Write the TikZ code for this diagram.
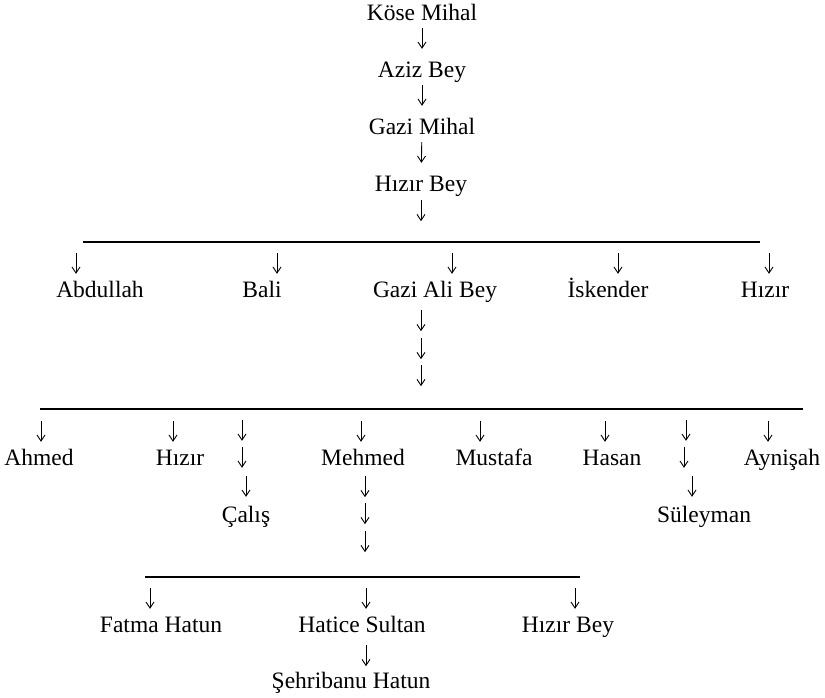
\documentclass[tikz,border=0pt]{standalone}
\usepackage{fontspec}
\setmainfont{Liberation Serif}
\usetikzlibrary{arrows.meta}

\begin{document}
\begin{tikzpicture}[x=1pt,y=-1pt,
  font=\fontsize{23.5}{28}\selectfont,
  person/.style={inner sep=0pt,anchor=base,text height=16pt,text depth=5pt},
  dn/.style={-{Straight Barb[length=6pt,width=8pt]},line width=0.9pt},
  chain/.style={dn,shorten <=3pt,shorten >=12pt},
  bar/.style={line width=1.3pt}]

\useasboundingbox (0,0) rectangle (825,697);

% line of descent
\node[person] (kose)  at (422,20)  {Köse Mihal};
\node[person] (aziz)  at (422,77)  {Aziz Bey};
\node[person] (gazim) at (422,134) {Gazi Mihal};
\node[person] (hizir) at (421,191) {Hızır Bey};
\draw[chain] (kose) -- (aziz);
\draw[chain] (aziz) -- (gazim);
\draw[chain] (gazim) -- (hizir);
\draw[dn] ([shift={(0,4)}]hizir.south) -- ++(0,21);

% sons of Hizir Bey
\draw[bar] (83,242) -- (760,242);
\node[person] (abdullah) at (100,297) {Abdullah};
\node[person] (bali)     at (262,297) {Bali};
\node[person] (galibey)  at (435,297) {Gazi Ali Bey};
\node[person] (iskender) at (608,297) {İskender};
\node[person] (hizir2)   at (765,297) {Hızır};
\draw[dn] ([shift={(-24,-28)}]abdullah.north) -- ++(0,21);
\draw[dn] ([shift={(15,-28)}]bali.north) -- ++(0,21);
\draw[dn] ([shift={(17,-28)}]galibey.north) -- ++(0,21);
\draw[dn] ([shift={(10,-28)}]iskender.north) -- ++(0,21);
\draw[dn] ([shift={(4,-28)}]hizir2.north) -- ++(0,21);
\draw[dn] ([shift={(-14,8)}]galibey.south) -- ++(0,21);
\draw[dn] ([shift={(-14,36)}]galibey.south) -- ++(0,21);
\draw[dn] ([shift={(-14,63)}]galibey.south) -- ++(0,21);

% children of Gazi Ali Bey
\draw[bar] (40,409) -- (803,409);
\node[person] (ahmed)    at (39,465)  {Ahmed};
\node[person] (hizir3)   at (180,465) {Hızır};
\node[person] (mehmed)   at (363,465) {Mehmed};
\node[person] (mustafa)  at (494,465) {Mustafa};
\node[person] (hasan)    at (612,465) {Hasan};
\node[person] (aynisah)  at (782,465) {Aynişah};
\node[person] (calis)    at (246,522) {Çalış};
\node[person] (suleyman) at (704,522) {Süleyman};
\draw[dn] ([shift={(2,-28)}]ahmed.north) -- ++(0,21);
\draw[dn] ([shift={(-7,-28)}]hizir3.north) -- ++(0,21);
\draw[dn] ([shift={(-2,-28)}]mehmed.north) -- ++(0,21);
\draw[dn] ([shift={(-14,-28)}]mustafa.north) -- ++(0,21);
\draw[dn] ([shift={(-7,-28)}]hasan.north) -- ++(0,21);
\draw[dn] ([shift={(-14,-28)}]aynisah.north) -- ++(0,21);
\draw[dn] ([shift={(-4,-86)}]calis.north) -- ++(0,21);
\draw[dn] ([shift={(-4,-59)}]calis.north) -- ++(0,21);
\draw[dn] ([shift={(0,-30)}]calis.north) -- ++(0,21);
\draw[dn] ([shift={(-18,-86)}]suleyman.north) -- ++(0,21);
\draw[dn] ([shift={(-20,-59)}]suleyman.north) -- ++(0,21);
\draw[dn] ([shift={(-12,-30)}]suleyman.north) -- ++(0,21);
\draw[dn] ([shift={(2,6)}]mehmed.south) -- ++(0,21);
\draw[dn] ([shift={(2,33)}]mehmed.south) -- ++(0,21);
\draw[dn] ([shift={(2,61)}]mehmed.south) -- ++(0,21);

% children of Mehmed
\draw[bar] (145,577) -- (580,577);
\node[person] (fatma)     at (161,632) {Fatma Hatun};
\node[person] (hatice)    at (362,632) {Hatice Sultan};
\node[person] (hizirbey)  at (568,632) {Hızır Bey};
\node[person] (sehribanu) at (351,688) {Şehribanu Hatun};
\draw[dn] ([shift={(-11,-28)}]fatma.north) -- ++(0,21);
\draw[dn] ([shift={(4,-28)}]hatice.north) -- ++(0,21);
\draw[dn] ([shift={(7,-28)}]hizirbey.north) -- ++(0,21);
\draw[dn] ([shift={(4,8)}]hatice.south) -- ++(0,21);

\end{tikzpicture}
\end{document}
